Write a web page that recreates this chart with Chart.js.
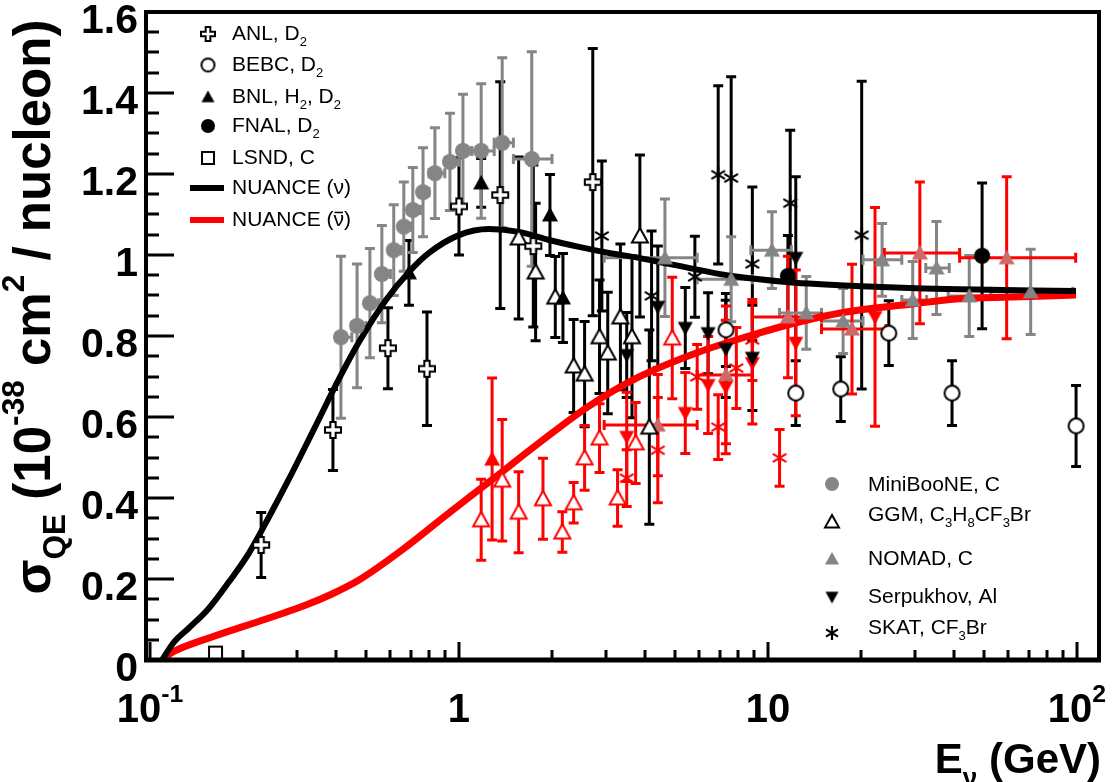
<!DOCTYPE html>
<html>
<head>
<meta charset="utf-8">
<script src="https://cdn.jsdelivr.net/npm/chart.js@4.4.0/dist/chart.umd.min.js"></script>
<style>
  html, body { margin: 0; padding: 0; background: #fff; }
</style>
</head>
<body>
<canvas id="qe" width="1115" height="782"></canvas>
<script>
// energies in GeV, cross sections in 1e-38 cm^2 / nucleon
const yTicks = [0, 0.2, 0.4, 0.6, 0.8, 1, 1.2, 1.4, 1.6];
const yTickLabels = ['0', '0.2', '0.4', '0.6', '0.8', '1', '1.2', '1.4', '1.6'];
const xTicks = [0.1, 1, 10, 100];
const xTickLabels = [['10', '-1'], ['1', ''], ['10', ''], ['10', '2']];

const anlE = [0.229, 0.391, 0.589, 0.788, 1.00, 1.36, 1.74, 2.71];
const anlV = [0.284, 0.568, 0.770, 0.719, 1.12, 1.148, 1.022, 1.18];
const anlErr = [0.08, 0.10, 0.10, 0.14, 0.12, 0.28, 0.20, 0.33];

const bebcE = [7.31, 12.3, 17.2, 24.6, 39.4, 99.3];
const bebcV = [0.815, 0.659, 0.669, 0.807, 0.659, 0.578];
const bebcErr = [0.09, 0.08, 0.08, 0.08, 0.08, 0.10];

const bnlE = [0.689, 1.18, 1.97, 2.17];
const bnlV = [0.956, 1.178, 1.099, 0.894];
const bnlErr = [0.08, 0.06, 0.10, 0.11];

const bnlBarE = [1.28];
const bnlBarV = [0.496];
const bnlBarErr = [0.20];

const fnalE = [11.6, 49.3];
const fnalV = [0.948, 0.998];
const fnalErr = [0.10, 0.18];

const lsndE = [0.163];
const lsndV = [0.017];

const mbE = [0.415, 0.468, 0.515, 0.563, 0.615, 0.663, 0.709, 0.765, 0.836, 0.935, 1.03, 1.18, 1.38, 1.72];
const mbV = [0.797, 0.825, 0.881, 0.953, 1.012, 1.07, 1.111, 1.155, 1.202, 1.23, 1.257, 1.257, 1.277, 1.237];
const mbErr = [0.20, 0.153, 0.135, 0.12, 0.112, 0.11, 0.105, 0.11, 0.112, 0.12, 0.14, 0.166, 0.21, 0.265];
const mbLo = [0.40, 0.45, 0.50, 0.55, 0.60, 0.65, 0.70, 0.75, 0.80, 0.90, 1.00, 1.10, 1.30, 1.50];
const mbHi = [0.45, 0.50, 0.55, 0.60, 0.65, 0.70, 0.75, 0.80, 0.90, 1.00, 1.10, 1.30, 1.50, 2.00];

const ggmE = [1.56, 1.77, 2.05, 2.35, 2.55, 2.85, 3.03, 3.33, 3.63, 3.85, 4.13];
const ggmV = [1.042, 0.958, 0.896, 0.726, 0.706, 0.798, 0.758, 0.847, 0.798, 1.047, 0.575];
const ggmErr = [0.20, 0.17, 0.10, 0.115, 0.13, 0.14, 0.15, 0.18, 0.20, 0.20, 0.24];

const ggmBarE = [1.18, 1.38, 1.56, 1.87, 2.16, 2.35, 2.55, 2.85, 3.26, 3.73, 4.9];
const ggmBarV = [0.346, 0.444, 0.365, 0.398, 0.316, 0.388, 0.499, 0.548, 0.40, 0.536, 0.795];
const ggmBarErr = [0.10, 0.15, 0.10, 0.10, 0.05, 0.05, 0.08, 0.085, 0.07, 0.10, 0.15];

const nomadE = [4.64, 7.6, 10.3, 13.3, 17.5, 23.4, 29.4, 35.1, 44.8, 70.8];
const nomadV = [0.993, 0.94, 1.012, 0.857, 0.837, 0.988, 0.889, 0.968, 0.899, 0.909];
const nomadErr = [0.145, 0.105, 0.095, 0.09, 0.08, 0.09, 0.095, 0.115, 0.10, 0.105];
const nomadLo = [2.95, 5.9, 8.8, 10.9, 14.9, 20.3, 27.1, 32.4, 38.3, 52.6];
const nomadHi = [5.9, 8.9, 11.9, 14.9, 20.3, 27.1, 32.6, 38.6, 52.6, 97];

const nomadBarE = [4.4, 7.31, 11.6, 18.7, 31.0, 59.2];
const nomadBarV = [0.58, 0.704, 0.847, 0.817, 1.005, 0.993];
const nomadBarErr = [0.125, 0.17, 0.15, 0.16, 0.175, 0.20];
const nomadBarLo = [2.95, 5.9, 8.9, 14.9, 23.8, 41.7];
const nomadBarHi = [5.9, 8.9, 14.9, 24.1, 41.7, 99];

const serpE = [3.49, 4.4, 5.4, 6.4, 7.3, 8.9, 12.3];
const serpV = [0.753, 0.872, 0.82, 0.807, 0.768, 0.746, 0.993];
const serpErr = [0.105, 0.15, 0.10, 0.10, 0.12, 0.13, 0.20];

const serpBarE = [3.49, 5.4, 6.4, 7.3, 8.9, 12.3, 22.2];
const serpBarV = [0.551, 0.61, 0.679, 0.674, 0.733, 0.783, 0.847];
const serpBarErr = [0.11, 0.10, 0.12, 0.165, 0.15, 0.18, 0.27];

const skatE = [2.9, 4.2, 5.8, 6.9, 7.6, 8.9, 11.8, 20.1];
const skatV = [1.047, 0.899, 0.946, 1.198, 1.19, 0.978, 1.128, 1.049];
const skatErr = [0.185, 0.16, 0.10, 0.22, 0.25, 0.19, 0.18, 0.38];

const skatBarE = [3.49, 4.4, 5.9, 6.9, 7.9, 8.9, 10.9];
const skatBarV = [0.449, 0.518, 0.699, 0.575, 0.721, 0.79, 0.499];
const skatBarErr = [0.07, 0.13, 0.08, 0.08, 0.10, 0.10, 0.07];

const nuanceE = [0.1094, 0.1196, 0.1337, 0.1552, 0.1802, 0.2091, 0.2427, 0.2818, 0.3395, 0.409, 0.4747, 0.5804, 0.689, 0.7998, 1.0, 1.251, 1.564, 1.956, 2.445, 3.058, 3.823, 4.782, 7.646, 11.69, 20.15, 37.67, 99.27];
const nuanceV = [0, 0.044, 0.079, 0.128, 0.193, 0.264, 0.353, 0.447, 0.570, 0.694, 0.785, 0.889, 0.958, 1.005, 1.049, 1.064, 1.057, 1.037, 1.020, 1.005, 0.993, 0.978, 0.948, 0.933, 0.923, 0.916, 0.911];

const nuanceBarE = [0.111, 0.1169, 0.1241, 0.1587, 0.2374, 0.3198, 0.3882, 0.4747, 0.654, 0.928, 1.251, 1.815, 2.635, 3.823, 5.98, 8.68, 12.6, 17.88, 29.24, 40.59, 61.6, 99.27];
const nuanceBarV = [0.0025, 0.0173, 0.0272, 0.0568, 0.1012, 0.1358, 0.163, 0.1975, 0.2716, 0.363, 0.4395, 0.5358, 0.627, 0.6988, 0.7605, 0.80, 0.8346, 0.8593, 0.879, 0.8914, 0.8963, 0.9012];

const BLACK = '#000000';
const GRAY = '#858585';
const RED = '#ff0000';
const ROSE = '#cc6a6a';
const FONT = '"Liberation Sans", Arial, Helvetica, sans-serif';

// marker glyphs drawn once onto small canvases
function makeMarker (kind, color, size) {
  const pad = 3;
  const s = Math.ceil(size + 2 * pad);
  const c = document.createElement('canvas');
  c.width = s; c.height = s;
  const g = c.getContext('2d');
  const m = s / 2, r = size / 2;
  g.strokeStyle = color; g.fillStyle = color; g.lineWidth = 2;
  g.beginPath();
  if (kind === 'circle' || kind === 'openCircle') {
    g.arc(m, m, r, 0, Math.PI * 2);
  } else if (kind === 'triangle' || kind === 'openTriangle') {
    g.moveTo(m, m - r); g.lineTo(m + r, m + r * 0.8); g.lineTo(m - r, m + r * 0.8); g.closePath();
  } else if (kind === 'invTriangle') {
    g.moveTo(m - r, m - r * 0.8); g.lineTo(m + r, m - r * 0.8); g.lineTo(m, m + r); g.closePath();
  } else if (kind === 'openSquare') {
    g.rect(m - r, m - r, size, size);
  } else if (kind === 'openCross') {
    const a = r / 3;
    g.moveTo(m - a, m - r); g.lineTo(m + a, m - r); g.lineTo(m + a, m - a); g.lineTo(m + r, m - a);
    g.lineTo(m + r, m + a); g.lineTo(m + a, m + a); g.lineTo(m + a, m + r); g.lineTo(m - a, m + r);
    g.lineTo(m - a, m + a); g.lineTo(m - r, m + a); g.lineTo(m - r, m - a); g.lineTo(m - a, m - a); g.closePath();
  } else if (kind === 'star') {
    const d = r * 0.85;
    g.lineWidth = 2.2;
    g.moveTo(m, m - r); g.lineTo(m, m + r);
    g.moveTo(m - d, m - d * 0.6); g.lineTo(m + d, m + d * 0.6);
    g.moveTo(m - d, m + d * 0.6); g.lineTo(m + d, m - d * 0.6);
  }
  if (kind === 'star') {
    g.stroke();
  } else if (kind.startsWith('open')) {
    g.fillStyle = '#fff'; g.fill(); g.stroke();
  } else {
    g.fill();
  }
  return c;
}

const mk = {
  anl: makeMarker('openCross', BLACK, 16),
  bebc: makeMarker('openCircle', BLACK, 15),
  bnl: makeMarker('triangle', BLACK, 16),
  bnlBar: makeMarker('triangle', RED, 16),
  fnal: makeMarker('circle', BLACK, 16),
  lsnd: makeMarker('openSquare', BLACK, 13),
  mb: makeMarker('circle', GRAY, 16),
  ggm: makeMarker('openTriangle', BLACK, 16),
  ggmBar: makeMarker('openTriangle', RED, 16),
  nomad: makeMarker('triangle', GRAY, 16),
  nomadBar: makeMarker('triangle', ROSE, 16),
  serp: makeMarker('invTriangle', BLACK, 15),
  serpBar: makeMarker('invTriangle', RED, 15),
  skat: makeMarker('star', BLACK, 16),
  skatBar: makeMarker('star', RED, 16)
};
const legMk = {
  anl: makeMarker('openCross', BLACK, 14),
  bebc: makeMarker('openCircle', BLACK, 13),
  bnl: makeMarker('triangle', BLACK, 13),
  fnal: makeMarker('circle', BLACK, 14),
  lsnd: makeMarker('openSquare', BLACK, 12),
  mb: makeMarker('circle', GRAY, 14),
  ggm: makeMarker('openTriangle', BLACK, 14),
  nomad: makeMarker('triangle', GRAY, 14),
  serp: makeMarker('invTriangle', BLACK, 13),
  skat: makeMarker('star', BLACK, 14)
};

const pts = (E, V) => E.map((e, i) => ({ x: e, y: V[i] }));

function points (label, E, V, err, marker, barColor, lo, hi) {
  return {
    type: 'scatter', label, data: pts(E, V), pointStyle: marker, pointRadius: 7,
    yErr: err, xLo: lo, xHi: hi, barColor, order: 0
  };
}

function curve (label, E, V, color, width) {
  return {
    type: 'scatter', label, data: pts(E, V), showLine: true, borderColor: color,
    borderWidth: width, pointRadius: 0, cubicInterpolationMode: 'monotone',
    borderCapStyle: 'butt', borderJoinStyle: 'round', order: 5
  };
}

// vertical / horizontal error bars with small end caps
const errorBars = {
  id: 'errorBars',
  beforeDatasetsDraw (chart) {
    const { ctx, chartArea: a, scales: { x, y } } = chart;
    ctx.save();
    ctx.beginPath(); ctx.rect(a.left, a.top, a.right - a.left, a.bottom - a.top); ctx.clip();
    ctx.lineWidth = 3;
    chart.data.datasets.forEach(ds => {
      if (!ds.barColor) return;
      ctx.strokeStyle = ds.barColor;
      ds.data.forEach((p, j) => {
        const px = x.getPixelForValue(p.x), py = y.getPixelForValue(p.y);
        ctx.beginPath();
        if (ds.yErr && ds.yErr[j]) {
          const t = y.getPixelForValue(p.y + ds.yErr[j]);
          const b = y.getPixelForValue(p.y - ds.yErr[j]);
          ctx.moveTo(px, t); ctx.lineTo(px, b);
          ctx.moveTo(px - 5, t); ctx.lineTo(px + 5, t);
          ctx.moveTo(px - 5, b); ctx.lineTo(px + 5, b);
        }
        if (ds.xLo) {
          const l = x.getPixelForValue(ds.xLo[j]), r = x.getPixelForValue(ds.xHi[j]);
          ctx.moveTo(l, py); ctx.lineTo(r, py);
          ctx.moveTo(l, py - 5); ctx.lineTo(l, py + 5);
          ctx.moveTo(r, py - 5); ctx.lineTo(r, py + 5);
        }
        ctx.stroke();
      });
    });
    ctx.restore();
  }
};

// text with sub/superscripts: parts = [[text, 'n' | 'sub' | 'sup' | 'bar'], ...]
function drawRich (ctx, parts, x, y, size, weight, measureOnly) {
  let cx = x;
  parts.forEach(([t, k]) => {
    const small = k === 'sub' || k === 'sup';
    const fs = small ? size * 0.62 : size;
    ctx.font = `${weight} ${fs}px ${FONT}`;
    const dy = k === 'sub' ? size * 0.3 : k === 'sup' ? -size * 0.5 : 0;
    const w = ctx.measureText(t).width;
    if (!measureOnly) {
      ctx.fillText(t, cx, y + dy);
      if (k === 'bar') {
        ctx.fillRect(cx + 1, y - size * 0.68, w - 2, Math.max(1.5, size * 0.07));
      }
    }
    cx += w;
  });
  return cx - x;
}

const leftLegend = [
  { m: 'anl', y: 34, parts: [['ANL, D', 'n'], ['2', 'sub']] },
  { m: 'bebc', y: 65, parts: [['BEBC, D', 'n'], ['2', 'sub']] },
  { m: 'bnl', y: 97, parts: [['BNL, H', 'n'], ['2', 'sub'], [', D', 'n'], ['2', 'sub']] },
  { m: 'fnal', y: 126, parts: [['FNAL, D', 'n'], ['2', 'sub']] },
  { m: 'lsnd', y: 158, parts: [['LSND, C', 'n']] },
  { line: BLACK, y: 188, parts: [['NUANCE (', 'n'], ['\u03bd', 'n'], [')', 'n']] },
  { line: RED, y: 220, parts: [['NUANCE (', 'n'], ['\u03bd', 'bar'], [')', 'n']] }
];
const rightLegend = [
  { m: 'mb', y: 484, ty: 484, parts: [['MiniBooNE, C', 'n']] },
  { m: 'ggm', y: 522, ty: 514, parts: [['GGM, C', 'n'], ['3', 'sub'], ['H', 'n'], ['8', 'sub'], ['CF', 'n'], ['3', 'sub'], ['Br', 'n']] },
  { m: 'nomad', y: 559, ty: 558, parts: [['NOMAD, C', 'n']] },
  { m: 'serp', y: 597, ty: 596, parts: [['Serpukhov, Al', 'n']] },
  { m: 'skat', y: 633, ty: 627, parts: [['SKAT, CF', 'n'], ['3', 'sub'], ['Br', 'n']] }
];

const frameAndText = {
  id: 'frameAndText',
  afterDraw (chart) {
    const { ctx, chartArea: a, scales: { x, y } } = chart;
    ctx.save();
    ctx.fillStyle = BLACK; ctx.strokeStyle = BLACK;

    // frame
    ctx.lineWidth = 4;
    ctx.strokeRect(a.left, a.top, a.right - a.left, a.bottom - a.top);
    ctx.lineWidth = 5;
    ctx.beginPath(); ctx.moveTo(a.left - 2, a.bottom); ctx.lineTo(a.right + 2, a.bottom); ctx.stroke();

    // y ticks inside the frame
    ctx.lineWidth = 3;
    ctx.beginPath();
    for (let v = 0; v <= 1.6001; v += 0.05) {
      const py = Math.round(y.getPixelForValue(v));
      const major = Math.abs(v / 0.2 - Math.round(v / 0.2)) < 1e-6;
      ctx.moveTo(a.left, py); ctx.lineTo(a.left + (major ? 28 : 13), py);
    }
    // x ticks (log) inside the frame
    for (let d = 0.1; d < 200; d *= 10) {
      for (let k = 1; k <= 9; k++) {
        const e = d * k;
        if (e < x.min || e > x.max) continue;
        const px = Math.round(x.getPixelForValue(e));
        ctx.moveTo(px, a.bottom); ctx.lineTo(px, a.bottom - (k === 1 ? 18 : 10));
      }
    }
    ctx.stroke();

    // tick labels
    ctx.textBaseline = 'alphabetic';
    ctx.textAlign = 'right';
    ctx.font = `bold 41px ${FONT}`;
    yTicks.forEach((v, i) => {
      ctx.fillText(yTickLabels[i], 138, y.getPixelForValue(v) + 21);
    });
    ctx.textAlign = 'left';
    xTicks.forEach((e, i) => {
      const parts = [[xTickLabels[i][0], 'n'], [xTickLabels[i][1], 'sup']];
      const w = drawRich(ctx, parts, 0, 0, 40, 'bold', true);
      drawRich(ctx, parts, x.getPixelForValue(e) - w / 2, 722, 40, 'bold');
    });

    // axis titles
    const xt = [['E', 'n'], ['\u03bd', 'sub'], [' (GeV)', 'n']];
    const xw = drawRich(ctx, xt, 0, 0, 42, 'bold', true);
    drawRich(ctx, xt, 1101 - xw, 773, 42, 'bold');

    const yt = [['\u03c3', 'n'], ['QE', 'sub'], [' (10', 'n'], ['-38', 'sup'], [' cm', 'n'], ['2', 'sup'], [' / nucleon)', 'n']];
    const yw0 = drawRich(ctx, yt, 0, 0, 38, 'bold', true);
    const ys = 38 * 575 / yw0;
    const yw = drawRich(ctx, yt, 0, 0, ys, 'bold', true);
    ctx.save();
    ctx.translate(50, 307);
    ctx.rotate(-Math.PI / 2);
    drawRich(ctx, yt, -yw / 2, 0, ys, 'bold');
    ctx.restore();

    // legends
    const drawEntry = (item, mx, tx, ty) => {
      if (item.m) {
        const c = legMk[item.m];
        ctx.drawImage(c, mx - c.width / 2, item.y - c.height / 2);
      } else {
        ctx.fillStyle = item.line;
        ctx.fillRect(190, item.y - 3, 34, 6);
        ctx.fillStyle = BLACK;
      }
      drawRich(ctx, item.parts, tx, ty + 7, 21, 'normal');
    };
    leftLegend.forEach(it => drawEntry(it, 208, 232, it.y - 1));
    rightLegend.forEach(it => drawEntry(it, 832, 868, it.ty));

    ctx.restore();
  }
};

new Chart(document.getElementById('qe'), {
  data: {
    datasets: [
      points('ANL, D2', anlE, anlV, anlErr, mk.anl, BLACK),
      points('BEBC, D2', bebcE, bebcV, bebcErr, mk.bebc, BLACK),
      points('BNL, H2, D2', bnlE, bnlV, bnlErr, mk.bnl, BLACK),
      points('BNL antinu', bnlBarE, bnlBarV, bnlBarErr, mk.bnlBar, RED),
      points('FNAL, D2', fnalE, fnalV, fnalErr, mk.fnal, BLACK),
      points('LSND, C', lsndE, lsndV, null, mk.lsnd, BLACK),
      points('GGM', ggmE, ggmV, ggmErr, mk.ggm, BLACK),
      points('GGM antinu', ggmBarE, ggmBarV, ggmBarErr, mk.ggmBar, RED),
      points('Serpukhov', serpE, serpV, serpErr, mk.serp, BLACK),
      points('Serpukhov antinu', serpBarE, serpBarV, serpBarErr, mk.serpBar, RED),
      points('SKAT', skatE, skatV, skatErr, mk.skat, BLACK),
      points('SKAT antinu', skatBarE, skatBarV, skatBarErr, mk.skatBar, RED),
      points('NOMAD, C', nomadE, nomadV, nomadErr, mk.nomad, GRAY, nomadLo, nomadHi),
      points('NOMAD antinu', nomadBarE, nomadBarV, nomadBarErr, mk.nomadBar, RED, nomadBarLo, nomadBarHi),
      points('MiniBooNE, C', mbE, mbV, mbErr, mk.mb, GRAY, mbLo, mbHi),
      curve('NUANCE (nu)', nuanceE, nuanceV, BLACK, 6),
      curve('NUANCE (antinu)', nuanceBarE, nuanceBarV, RED, 7)
    ]
  },
  options: {
    responsive: false,
    animation: false,
    layout: { padding: { left: 146, right: 16, top: 12, bottom: 122 } },
    plugins: { legend: { display: false }, tooltip: { enabled: false } },
    scales: {
      x: { type: 'logarithmic', min: 0.0971, max: 117.8, display: false },
      y: { type: 'linear', min: 0, max: 1.6, display: false }
    }
  },
  plugins: [errorBars, frameAndText]
})
</script>
</body>
</html>
